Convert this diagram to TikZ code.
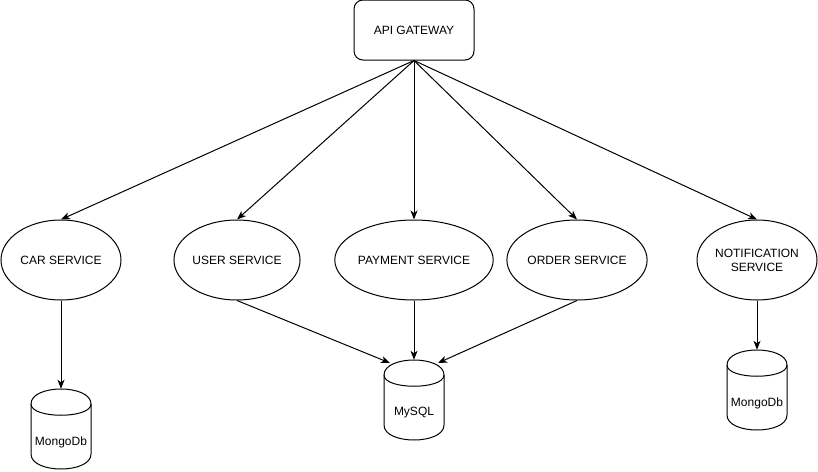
\documentclass[tikz,border=0pt]{standalone}
\usepackage{fontspec}
\setmainfont{Liberation Sans}
\usetikzlibrary{shapes.geometric,arrows.meta,calc}
\tikzset{
  every node/.style={font=\fontsize{12}{14}\selectfont},
  gwbox/.style={draw, rounded corners=9pt, minimum width=120pt, minimum height=60pt, inner sep=0pt, line width=1pt},
  svc/.style={draw, ellipse, minimum width=120pt, minimum height=80pt, inner sep=0pt, align=center, line width=1pt},
  cylbox/.style={rectangle, minimum width=60pt, minimum height=80pt, inner sep=0pt},
  cylline/.style={line width=1pt},
  lbl/.style={inner sep=0pt},
  arr/.style={line width=1pt, -{Stealth[length=9pt,width=7pt,inset=2.5pt]}},
}
\newcommand\dbcyl[4]{%
  \node[cylbox] (#1) at (#2+30,#3+40) {};
  \draw[cylline] (#2,#3+15) .. controls (#2,#3-5) and (#2+60,#3-5) .. (#2+60,#3+15)
     -- (#2+60,#3+65) .. controls (#2+60,#3+85) and (#2,#3+85) .. (#2,#3+65) -- cycle;
  \draw[cylline] (#2,#3+15) .. controls (#2,#3+30) and (#2+60,#3+30) .. (#2+60,#3+15);
  \node[lbl] (#1-label) at (#2+30,#3+53) {#4};
}
\begin{document}
\begin{tikzpicture}[x=1pt,y=-1pt]
\useasboundingbox (0,0) rectangle (818,471);
\node[gwbox] (gw) at (414,30) {API GATEWAY};
\node[svc] (car) at (61,260) {CAR SERVICE};
\node[svc] (user) at (237,260) {USER SERVICE};
\node[svc] (pay) at (414,260) {PAYMENT SERVICE};
\node[svc] (order) at (577,260) {ORDER SERVICE};
\node[svc] (notif) at (757,260) {NOTIFICATION\\SERVICE};
\dbcyl{mongoL}{31}{389}{MongoDb}
\dbcyl{mysql}{384}{360}{MySQL}
\dbcyl{mongoR}{727}{350}{MongoDb}
\coordinate (mysqlL) at (390,363);
\coordinate (mysqlR) at (438,363);
\draw[arr] (gw.south) -- (car.north);
\draw[arr] (gw.south) -- (user.north);
\draw[arr] (gw.south) -- (pay.north);
\draw[arr] (gw.south) -- (order.north);
\draw[arr] (gw.south) -- (notif.north);
\draw[arr] (car.south) -- (mongoL.north);
\draw[arr] (user.south) -- (mysqlL);
\draw[arr] (pay.south) -- (mysql.north);
\draw[arr] (order.south) -- (mysqlR);
\draw[arr] (notif.south) -- (mongoR.north);
\end{tikzpicture}
\end{document}
